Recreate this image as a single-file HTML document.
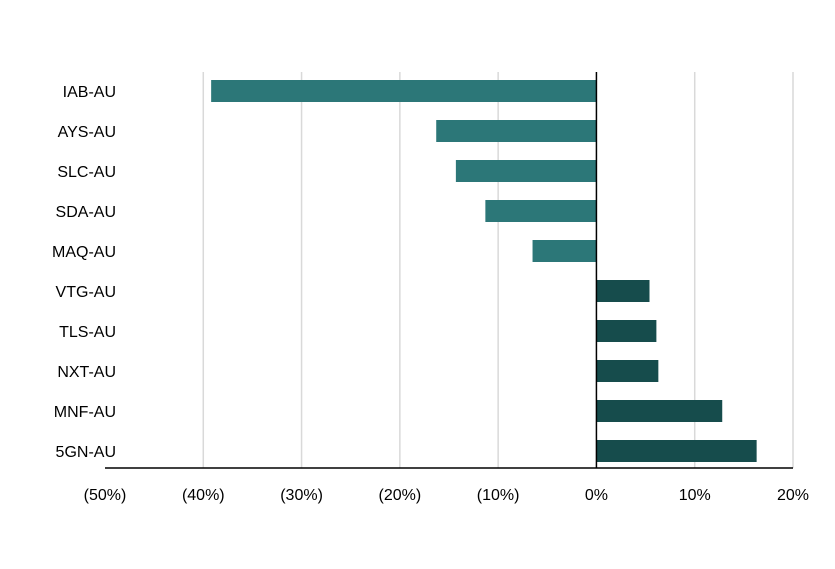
<!DOCTYPE html>
<html><head><meta charset="utf-8"><style>
body{margin:0;background:#fff;}
svg text{font-family:"Liberation Sans",Arial,sans-serif;font-size:16px;fill:#000;}
</style></head><body>
<svg id="chart" width="835" height="564" xmlns="http://www.w3.org/2000/svg"></svg>
<script>
const categories=["IAB-AU","AYS-AU","SLC-AU","SDA-AU","MAQ-AU","VTG-AU","TLS-AU","NXT-AU","MNF-AU","5GN-AU"];
const values=[-39.2,-16.3,-14.3,-11.3,-6.5,5.4,6.1,6.3,12.8,16.3];
const ticks=[-50,-40,-30,-20,-10,0,10,20];
const tickLabels=["(50%)","(40%)","(30%)","(20%)","(10%)","0%","10%","20%"];
const svgEl=document.getElementById('chart');
const NS="http://www.w3.org/2000/svg";
const x0=105,x1=793,plotTop=72,plotBottom=468,rowH=40,barH=22;
function xs(v){return x0+(v+50)/70*(x1-x0);}
function yc(i){return 91+i*rowH;}
function mk(t,a){const e=document.createElementNS(NS,t);for(const k in a)e.setAttribute(k,a[k]);svgEl.appendChild(e);return e;}
ticks.forEach((t,i)=>{
 if(t!==0&&t!==-50){const g=mk('line',{x1:xs(t),x2:xs(t),y1:plotTop,y2:plotBottom,stroke:'#d9d9d9','stroke-width':1.5});
 
 }
 const l=mk('text',{x:xs(t),y:500,'text-anchor':'middle'});l.textContent=tickLabels[i];
 
 
});
values.forEach((v,i)=>{
 const a=xs(Math.min(0,v)),b=xs(Math.max(0,v));
 const r=mk('rect',{x:a,y:yc(i)-barH/2,width:b-a,height:barH,fill:v<0?'#2c7778':'#164c4c'});
 
 
 const t=mk('text',{x:116,y:yc(i)+6,'text-anchor':'end'});t.textContent=categories[i];
 
 
});
const z=mk('line',{x1:xs(0),x2:xs(0),y1:plotTop,y2:plotBottom,stroke:'#000','stroke-width':1.5});


const ax=mk('line',{x1:x0,x2:x1,y1:plotBottom,y2:plotBottom,stroke:'#000','stroke-width':1.5});


</script>
</body></html>
